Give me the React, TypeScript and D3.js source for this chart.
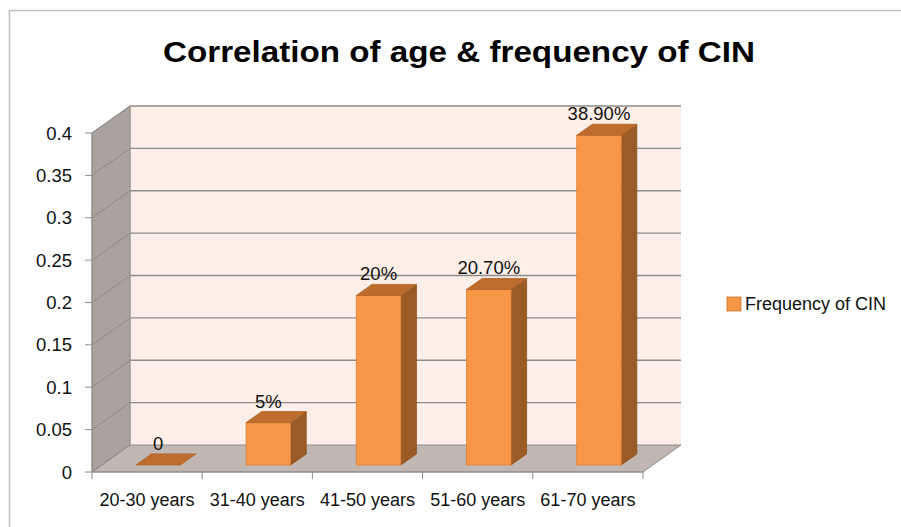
import React from "react";
import * as d3 from "d3";

// Chart data
const categories = ["20-30 years", "31-40 years", "41-50 years", "51-60 years", "61-70 years"];
const frequency = [0, 0.05, 0.2, 0.207, 0.389];
const valueLabels = ["0", "5%", "20%", "20.70%", "38.90%"];
const yTicks = [0, 0.05, 0.1, 0.15, 0.2, 0.25, 0.3, 0.35, 0.4];
const yTickLabels = ["0", "0.05", "0.1", "0.15", "0.2", "0.25", "0.3", "0.35", "0.4"];
const seriesName = "Frequency of CIN";
const title = "Correlation of age & frequency of CIN";

const W = 901;
const H = 527;
const FONT = "'Liberation Sans', Arial, sans-serif";

// 3D depth vector (screen offset of the back wall relative to the front plane)
const DX = 38;
const DY = -27;
// bar depth span within the floor
const D0 = 0.26;
const D1 = 0.67;

const x = d3.scaleBand<string>().domain(categories).range([92, 643]).paddingInner(0).paddingOuter(0);
const y = d3.scaleLinear().domain([0, 0.4]).range([472, 133]);

const P = (px: number, v: number, d: number): [number, number] => [px + d * DX, y(v) + d * DY];
const poly = (pts: [number, number][]) => "M" + pts.map((p) => p.join(",")).join("L") + "Z";

export default function App() {
  const [x0, x1] = x.range();
  const vMax = 0.4;
  const bw = x.bandwidth();
  const barW = bw * 0.404;

  return (
    <svg width={W} height={H} style={{ position: "absolute", left: 0, top: 0 }}>
      <rect x={0} y={0} width={W} height={H} fill="#ffffff" />
      {/* chart frame */}
      <rect x={9.5} y={10.5} width={W} height={H} fill="none" stroke="#BFBFBF" strokeWidth={1.5} />

      {/* title */}
      <text x={459} y={62} textAnchor="middle" fontFamily={FONT} fontWeight="bold" fontSize={29}
        textLength={592} lengthAdjust="spacingAndGlyphs" fill="#000">{title}</text>

      {/* walls and floor */}
      <path d={poly([P(x0, 0, 1), P(x0, vMax, 1), P(x1, vMax, 1), P(x1, 0, 1)])} fill="#FDEEE7" />
      <path d={poly([P(x0, 0, 0), P(x0, vMax, 0), P(x0, vMax, 1), P(x0, 0, 1)])} fill="#A9A29F" stroke="#9A9490" strokeWidth={1} />
      <path d={poly([P(x0, 0, 0), P(x1, 0, 0), P(x1, 0, 1), P(x0, 0, 1)])} fill="#C0B7B3" stroke="#8E8E8E" strokeWidth={1} />

      {/* gridlines */}
      {yTicks.map((v) => {
        const a = P(x0, v, 0), b = P(x0, v, 1), c = P(x1, v, 1);
        return (
          <g key={"g" + v}>
            {v > 0 && <line x1={b[0]} y1={b[1]} x2={c[0]} y2={c[1]} stroke="#8C8C8C" strokeWidth={1.3} />}
            <line x1={a[0]} y1={a[1]} x2={b[0]} y2={b[1]} stroke="#8F8A87" strokeWidth={1} />
          </g>
        );
      })}
      {/* back wall left edge */}
      <line x1={P(x0, 0, 1)[0]} y1={P(x0, 0, 1)[1]} x2={P(x0, vMax, 1)[0]} y2={P(x0, vMax, 1)[1]} stroke="#9A9490" strokeWidth={1} />

      {/* y axis */}
      <line x1={x0} y1={y(0)} x2={x0} y2={y(vMax)} stroke="#8C8C8C" strokeWidth={1} />
      {yTicks.map((v, i) => (
        <g key={"t" + v}>
          <line x1={x0 - 7} y1={y(v)} x2={x0} y2={y(v)} stroke="#8C8C8C" strokeWidth={1} />
          <text x={72} y={y(v) + 6.5} textAnchor="end" fontFamily={FONT} fontSize={18.5} fill="#111">{yTickLabels[i]}</text>
        </g>
      ))}

      {/* x axis */}
      <line x1={x0} y1={y(0)} x2={x1} y2={y(0)} stroke="#8C8C8C" strokeWidth={1} />
      {[...categories.map((c) => x(c) as number), x1].map((px, i) => (
        <line key={"xt" + i} x1={px} y1={y(0)} x2={px} y2={y(0) + 7} stroke="#8C8C8C" strokeWidth={1} />
      ))}
      {categories.map((c) => (
        <text key={"xl" + c} x={(x(c) as number) + bw / 2} y={506} textAnchor="middle" fontFamily={FONT} fontSize={18} fill="#111">{c}</text>
      ))}

      {/* bars */}
      {categories.map((c, i) => {
        const v = frequency[i];
        const bl = (x(c) as number) + (bw - barW) / 2 + 1.2;
        const br = bl + barW;
        const front = poly([P(bl, 0, D0), P(bl, v, D0), P(br, v, D0), P(br, 0, D0)]);
        const top = poly([P(bl, v, D0), P(br, v, D0), P(br, v, D1), P(bl, v, D1)]);
        const side = poly([P(br, 0, D0), P(br, v, D0), P(br, v, D1), P(br, 0, D1)]);
        const labelX = P(bl + barW / 2, v, D0)[0];
        const labelY = P(bl, v, D1)[1] - 4;
        return (
          <g key={"b" + c}>
            {v > 0 && <path d={side} fill="#9A5B26" stroke="#8A5020" strokeWidth={0.8} />}
            {v > 0 && <path d={front} fill="#F79646" stroke="#DB7F35" strokeWidth={0.8} />}
            <path d={top} fill="#BE6C2D" stroke="#B0632A" strokeWidth={0.8} />
            <text x={labelX} y={labelY} textAnchor="middle" fontFamily={FONT} fontSize={18.5} fill="#111">{valueLabels[i]}</text>
          </g>
        );
      })}

      {/* legend */}
      <rect x={727} y={297} width={14} height={14} fill="#F79646" stroke="#C9732F" strokeWidth={0.8} />
      <text x={745} y={310} fontFamily={FONT} fontSize={18} fill="#111">{seriesName}</text>
    </svg>
  );
}
